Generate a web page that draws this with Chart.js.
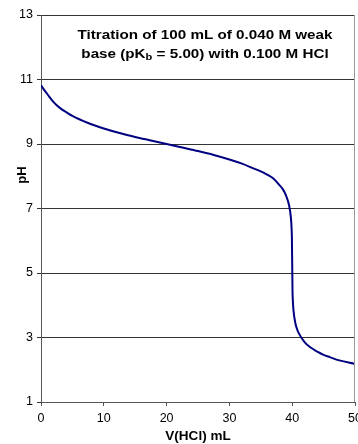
<!DOCTYPE html>
<html>
<head>
<meta charset="utf-8">
<script src="https://cdn.jsdelivr.net/npm/chart.js@4.4.0/dist/chart.umd.min.js"></script>
<style>
  html, body { margin: 0; padding: 0; background: #fff; }
  #wrap { width: 358px; height: 444px; position: relative; }
</style>
</head>
<body>
<div id="wrap"><canvas id="titration_chart"></canvas></div>
<script>
// volume of HCl added (mL) and pH
var volumes = [0, 0.5, 1, 2, 3, 4, 5, 7.5, 10, 12.5, 15, 17.5, 20, 22.5, 25, 27.5, 30, 32, 34, 35, 36, 37, 38, 38.5, 39, 39.5, 39.8, 39.9, 39.95, 40, 40.05, 40.1, 40.2, 40.5, 40.7, 41, 42, 43, 44, 45, 46, 47.5, 50];
var phValues = [10.82, 10.68, 10.55, 10.30, 10.12, 9.99, 9.87, 9.65, 9.48, 9.34, 9.22, 9.11, 9.00, 8.89, 8.78, 8.66, 8.52, 8.39, 8.23, 8.15, 8.05, 7.93, 7.72, 7.60, 7.41, 7.10, 6.70, 6.40, 6.10, 5.27, 4.45, 4.15, 3.85, 3.45, 3.30, 3.15, 2.85, 2.68, 2.56, 2.46, 2.39, 2.29, 2.18];
var xTicks = [0, 10, 20, 30, 40, 50];
var yTicks = [1, 3, 5, 7, 9, 11, 13];

var titleLine1 = 'Titration of 100 mL of 0.040 M weak';
var titleLine2 = ['base (pK', 'b', ' = 5.00) with 0.100 M HCl'];
var xTitle = 'V(HCl) mL';
var yTitle = 'pH';

var FONT = '"Liberation Sans", Arial, sans-serif';

var points = volumes.map(function(v, i){ return {x: v, y: phValues[i]}; });

// title, axis titles and the right frame line
var labelsPlugin = {
    id: 'labels',
    afterDraw: function(chart){
        var c = chart.ctx;
        var a = chart.chartArea;
        c.save();
        c.strokeStyle = '#9a9a9a';
        c.lineWidth = 1;
        c.beginPath();
        c.moveTo(a.right - 0.5, a.top);
        c.lineTo(a.right - 0.5, a.bottom);
        c.stroke();

        c.fillStyle = '#000';
        c.textBaseline = 'alphabetic';
        c.textAlign = 'left';

        // title text is a bit wider than the font, like the original
        c.save();
        c.translate(205, 0);
        c.scale(1.17, 1);
        var big = 'bold 13px ' + FONT, small = 'bold 9.5px ' + FONT;
        c.font = big;
        var w1 = c.measureText(titleLine1).width;
        c.fillText(titleLine1, -w1 / 2, 39);
        c.font = big; var wa = c.measureText(titleLine2[0]).width;
        c.font = small; var wb = c.measureText(titleLine2[1]).width;
        c.font = big; var wc = c.measureText(titleLine2[2]).width;
        var x = -(wa + wb + wc) / 2;
        c.font = big; c.fillText(titleLine2[0], x, 58);
        c.font = small; c.fillText(titleLine2[1], x + wa, 60);
        c.font = big; c.fillText(titleLine2[2], x + wa + wb, 58);
        c.restore();

        c.font = 'bold 13px ' + FONT;
        c.textAlign = 'center';
        c.textBaseline = 'middle';
        c.save();
        c.translate((a.left + a.right) / 2, 436);
        c.scale(1.04, 1);
        c.fillText(xTitle, 0, 0);
        c.restore();
        c.translate(22, 175);
        c.rotate(-Math.PI / 2);
        c.fillText(yTitle, 0, 0);
        c.restore();
    }
};

new Chart(document.getElementById('titration_chart'), {
    type: 'line',
    data: {
        datasets: [{
            data: points,
            borderColor: '#000080',
            borderWidth: 2,
            pointRadius: 0,
            cubicInterpolationMode: 'monotone',
            fill: false
        }]
    },
    options: {
        responsive: true,
        maintainAspectRatio: false,
        animation: false,
        layout: { padding: { top: 15, right: 3, left: 0, bottom: 0 } },
        plugins: {
            legend: { display: false },
            tooltip: { enabled: false }
        },
        scales: {
            x: {
                type: 'linear',
                min: xTicks[0],
                max: xTicks[xTicks.length - 1],
                afterBuildTicks: function(axis){ axis.ticks = xTicks.map(function(v){ return {value: v}; }); },
                afterFit: function(axis){ axis.height = 42; axis.paddingLeft = 0; axis.paddingRight = 0; },
                grid: { drawOnChartArea: false, tickLength: 4, color: '#555' },
                border: { color: '#555', width: 1 },
                ticks: { color: '#000', padding: 5, maxRotation: 0, font: { family: FONT, size: 12.5 } }
            },
            y: {
                min: yTicks[0],
                max: yTicks[yTicks.length - 1],
                afterBuildTicks: function(axis){ axis.ticks = yTicks.map(function(v){ return {value: v}; }); },
                afterFit: function(axis){ axis.width = 41; axis.paddingTop = 0; axis.paddingBottom = 0; },
                grid: { color: '#333', tickLength: 4 },
                border: { color: '#555', width: 1 },
                ticks: { color: '#000', padding: 4, font: { family: FONT, size: 12.5 } }
            }
        }
    },
    plugins: [labelsPlugin]
});
</script>
</body>
</html>
